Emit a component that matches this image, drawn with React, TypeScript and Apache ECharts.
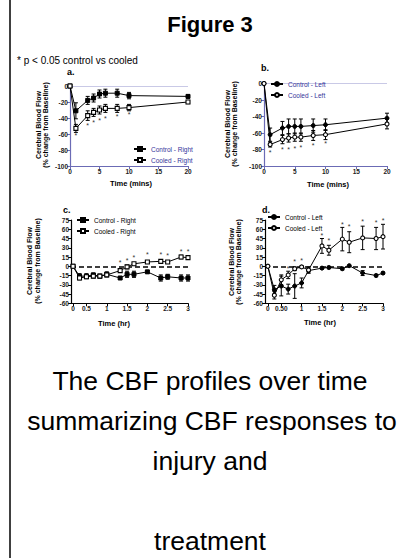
import React, { useEffect, useRef } from "react";
import * as echarts from "echarts";

const FONT = "'Liberation Sans', Arial, Helvetica, sans-serif";
const BLUE = "#6b6bb5";
const LEG_BLUE = "#34349a";

// ---------- Panels a & b (time in minutes) ----------
const minsTimes = [0, 1, 3, 4, 5, 6, 8, 10, 20];
const minsTicks = [0, 5, 10, 15, 20];

const aControl = [0, -31, -18, -15, -10, -9, -9, -12, -13];
const aControlErr = [0, 10, 5, 5, 5, 5, 5, 4, 2];
const aCooled = [0, -53, -37, -33, -30, -28, -28, -27, -20];
const aCooledErr = [0, 5, 6, 5, 5, 5, 5, 4, 2];
const aStarTimes = [1, 3, 4, 5, 6, 8, 10];
const aStarY = [-62, -49, -45, -43, -41, -38, -35];

const bControl = [0, -62, -54, -52, -52, -52, -51, -50, -42];
const bControlErr = [0, 8, 8, 9, 9, 9, 8, 7, 6];
const bCooled = [0, -74, -68, -66, -65, -65, -63, -62, -49];
const bCooledErr = [0, 3, 5, 5, 5, 5, 6, 6, 6];
const bStarTimes = [1, 3, 4, 5, 6, 8, 10];
const bStarY = [-84, -80, -80, -79, -78, -75, -73];

// ---------- Panels c & d (time in hours) ----------
const cTimes = [0.17, 0.33, 0.5, 0.67, 0.83, 1.0, 1.33, 1.5, 1.67, 2.0, 2.33, 2.5, 2.83, 3.0];
const cControl = [0, -16, -16, -14, -16, -13, -19, -13, -13, -9, -19, -17, -19, -19];
const cControlErr = [0, 4, 4, 3, 3, 4, 2, 5, 5, 2, 5, 4, 5, 5];
const cCooled = [0, -19, -17, -16, -16, -14, -7, -1, 4, 7, 8, 7, 15, 14];
const cCooledErr = [0, 3, 3, 3, 2, 3, 3, 3, 2, 2, 2, 2, 3, 3];
const cStarTimes = [1.33, 1.5, 1.67, 2.0, 2.33, 2.5, 2.83, 3.0];
const cStarY = [6, 10, 15, 19, 19, 18, 24, 24];
const cTickVals = [0.17, 0.5, 1, 1.5, 2, 2.5, 3];
const cTickLabels = ["0", "0.5", "1", "1.5", "2", "2.5", "3"];

const dTimes = [0.17, 0.33, 0.5, 0.67, 0.83, 1.0, 1.17, 1.5, 1.67, 2.0, 2.17, 2.5, 2.83, 3.0];
const dControl = [0, -38, -32, -37, -32, -27, -7, -3, -2, -4, 1, -11, -15, -11];
const dControlErr = [0, 7, 16, 8, 20, 8, 4, 2, 2, 2, 1, 4, 2, 2];
const dCooled = [0, -47, -22, -14, -4, -1, -6, 33, 26, 44, 39, 46, 45, 48];
const dCooledErr = [0, 6, 8, 6, 3, 2, 5, 12, 8, 19, 17, 19, 18, 20];
const dStarTimes = [0.67, 0.83, 1.0, 1.5, 1.67, 2.0, 2.17, 2.5, 2.83, 3.0];
const dStarY = [-3, 8, 10, 50, 42, 68, 64, 73, 71, 75];
const dTickVals = [0.17, 0.5, 1, 1.5, 2, 2.5, 3];
const dTickLabels = ["0", "0.50", "1", "1.5", "2", "2.5", "3"];

const pairs = (xs: number[], ys: number[]) => xs.map((x, i) => [x, ys[i]]);
const errData = (xs: number[], ys: number[], es: number[]) =>
  xs.map((x, i) => [x, ys[i] - es[i], ys[i] + es[i]]).filter((_, i) => es[i] > 0);

function lineSeries(name: string, idx: number, xs: number[], ys: number[], symbol: string, open: boolean, zeroLine?: any) {
  const s: any = {
    type: "line",
    name,
    xAxisIndex: idx,
    yAxisIndex: idx,
    data: pairs(xs, ys),
    symbol,
    symbolSize: 4,
    showSymbol: true,
    lineStyle: { color: "#000", width: 1 },
    itemStyle: open
      ? { color: "#fff", borderColor: "#000", borderWidth: 1.1 }
      : { color: "#000", borderColor: "#000", borderWidth: 1 },
    z: 4,
  };
  if (zeroLine) {
    s.markLine = {
      silent: true,
      symbol: ["none", "none"],
      label: { show: false },
      lineStyle: zeroLine,
      data: [{ yAxis: 0 }],
      z: 1,
    };
  }
  return s;
}

function errSeries(idx: number, xs: number[], ys: number[], es: number[]) {
  return {
    type: "custom",
    xAxisIndex: idx,
    yAxisIndex: idx,
    data: errData(xs, ys, es),
    encode: { x: 0, y: [1, 2] },
    z: 3,
    renderItem: (_p: any, api: any) => {
      const x = api.value(0);
      const lo = api.coord([x, api.value(1)]);
      const hi = api.coord([x, api.value(2)]);
      const w = 2;
      const st = { stroke: "#000", lineWidth: 1 };
      return {
        type: "group",
        children: [
          { type: "line", shape: { x1: lo[0], y1: lo[1], x2: hi[0], y2: hi[1] }, style: st },
          { type: "line", shape: { x1: lo[0] - w, y1: lo[1], x2: lo[0] + w, y2: lo[1] }, style: st },
          { type: "line", shape: { x1: hi[0] - w, y1: hi[1], x2: hi[0] + w, y2: hi[1] }, style: st },
        ],
      };
    },
  };
}

function starSeries(idx: number, xs: number[], ys: number[]) {
  return {
    type: "custom",
    xAxisIndex: idx,
    yAxisIndex: idx,
    data: pairs(xs, ys),
    z: 5,
    renderItem: (_p: any, api: any) => {
      const p = api.coord([api.value(0), api.value(1)]);
      return {
        type: "text",
        x: p[0],
        y: p[1],
        style: { text: "*", fontSize: 7, fontFamily: FONT, fill: "#333", align: "center", verticalAlign: "middle" },
      };
    },
  };
}

function axisBase(color: string) {
  return {
    type: "value",
    axisLine: { show: true, onZero: false, lineStyle: { color, width: 1.2 } },
    axisTick: { show: true, length: 3, lineStyle: { color, width: 1 } },
    axisLabel: { fontSize: 6.5, fontWeight: "bold", color: "#222", fontFamily: FONT, margin: 2 },
    splitLine: { show: false },
  };
}

function customX(idx: number, min: number, vals: number[], labels: string[]) {
  const b: any = axisBase("#000");
  return {
    ...b,
    gridIndex: idx,
    min,
    max: 3,
    axisTick: { ...b.axisTick, customValues: vals },
    axisLabel: {
      ...b.axisLabel,
      customValues: vals,
      formatter: (v: number) => {
        const i = vals.findIndex((t) => Math.abs(t - v) < 1e-6);
        return i >= 0 ? labels[i] : "";
      },
    },
  };
}

function legend(names: string[], left: number, top: number, color: string) {
  return {
    data: names,
    orient: "vertical",
    left,
    top,
    padding: 0,
    itemWidth: 12,
    itemHeight: 5,
    itemGap: 3,
    selectedMode: false,
    textStyle: { fontSize: 6.5, color, fontFamily: FONT, lineHeight: 8 },
  };
}

function txt(text: string, x: number, y: number, size: number, bold: boolean, extra: any = {}) {
  return {
    type: "text",
    x,
    y,
    ...extra,
    style: {
      text,
      fontSize: size,
      fontWeight: bold ? "bold" : "normal",
      fontFamily: FONT,
      fill: "#000",
      align: extra.align || "center",
      verticalAlign: "middle",
    },
  };
}

function yTitle(x1: number, x2: number, cy: number) {
  return [
    txt("Cerebral Blood Flow", x1, cy, 7, true, { rotation: Math.PI / 2 }),
    txt("(% change from Baseline)", x2, cy, 7, true, { rotation: Math.PI / 2 }),
  ];
}

function buildOption() {
  const lavender = { color: "#c9c9e6", width: 1, type: "solid" };
  const dashed = { color: "#000", width: 1.5, type: [5, 3] };
  return {
    animation: false,
    backgroundColor: "#fff",
    grid: [
      { left: 70, top: 86, width: 118, height: 80 },
      { left: 264, top: 83.5, width: 123, height: 82.5 },
      { left: 71, top: 220, width: 117, height: 83.3 },
      { left: 265, top: 220, width: 118, height: 83.3 },
    ],
    xAxis: [
      { ...axisBase(BLUE), gridIndex: 0, min: minsTicks[0], max: minsTicks[minsTicks.length - 1], interval: 5 },
      { ...axisBase(BLUE), gridIndex: 1, min: minsTicks[0], max: minsTicks[minsTicks.length - 1], interval: 5 },
      customX(2, 0.12, cTickVals, cTickLabels),
      customX(3, 0.1, dTickVals, dTickLabels),
    ],
    yAxis: [
      { ...axisBase(BLUE), gridIndex: 0, min: -100, max: 0, interval: 20 },
      { ...axisBase(BLUE), gridIndex: 1, min: -100, max: 0, interval: 20 },
      { ...axisBase("#000"), gridIndex: 2, min: -60, max: 75, interval: 15 },
      { ...axisBase("#000"), gridIndex: 3, min: -60, max: 75, interval: 15 },
    ],
    legend: [
      legend(["Control - Right", "Cooled - Right"], 133, 145, LEG_BLUE),
      legend(["Control - Left", "Cooled - Left"], 270, 80, LEG_BLUE),
      legend(["Control - Right", "Cooled - Right"], 76, 216, "#000"),
      legend(["Control - Left", "Cooled - Left"], 267, 213, "#000"),
    ],
    series: [
      errSeries(0, minsTimes, aControl, aControlErr),
      errSeries(0, minsTimes, aCooled, aCooledErr),
      lineSeries("Control - Right", 0, minsTimes, aControl, "rect", false, lavender),
      lineSeries("Cooled - Right", 0, minsTimes, aCooled, "rect", true),
      starSeries(0, aStarTimes, aStarY),

      errSeries(1, minsTimes, bControl, bControlErr),
      errSeries(1, minsTimes, bCooled, bCooledErr),
      lineSeries("Control - Left", 1, minsTimes, bControl, "circle", false, lavender),
      lineSeries("Cooled - Left", 1, minsTimes, bCooled, "circle", true),
      starSeries(1, bStarTimes, bStarY),

      errSeries(2, cTimes, cControl, cControlErr),
      errSeries(2, cTimes, cCooled, cCooledErr),
      lineSeries("Control - Right", 2, cTimes, cControl, "rect", false, dashed),
      lineSeries("Cooled - Right", 2, cTimes, cCooled, "rect", true),
      starSeries(2, cStarTimes, cStarY),

      errSeries(3, dTimes, dControl, dControlErr),
      errSeries(3, dTimes, dCooled, dCooledErr),
      lineSeries("Control - Left", 3, dTimes, dControl, "circle", false, dashed),
      lineSeries("Cooled - Left", 3, dTimes, dCooled, "circle", true),
      starSeries(3, dStarTimes, dStarY),
    ],
    graphic: [
      { type: "line", shape: { x1: 10, y1: 0, x2: 10, y2: 558 }, style: { stroke: "#000", lineWidth: 1.5 } },
      txt("Figure 3", 210, 24, 22, true),
      txt("* p < 0.05 control vs cooled", 17, 60, 10, false, { align: "left" }),
      txt("a.", 67, 72, 9, true, { align: "left" }),
      txt("b.", 261, 68, 9, true, { align: "left" }),
      txt("c.", 63, 210, 9, true, { align: "left" }),
      txt("d.", 262, 210, 9, true, { align: "left" }),
      ...yTitle(38, 45, 125),
      ...yTitle(227, 234, 124),
      ...yTitle(29, 37, 261),
      ...yTitle(231, 238, 262),
      txt("Time (mins)", 131, 183, 7.5, true),
      txt("Time (mins)", 328, 184, 7.5, true),
      txt("Time (hr)", 114, 323, 7.5, true),
      txt("Time (hr)", 320, 322, 7.5, true),
      txt("The CBF profiles over time", 210, 381, 26.5, false),
      txt("summarizing CBF responses to", 212, 421, 26.5, false),
      txt("injury and", 210, 461, 26.5, false),
      txt("treatment", 210, 541, 26.5, false),
    ],
  };
}

export default function App() {
  const ref = useRef<HTMLDivElement>(null);
  useEffect(() => {
    const chart = echarts.init(ref.current!, null, { renderer: "svg" });
    chart.setOption(buildOption() as any);
    return () => chart.dispose();
  }, []);
  return (
    <div
      ref={ref}
      style={{ position: "absolute", left: 0, top: 0, width: 419, height: 558, background: "#fff" }}
    />
  );
}
